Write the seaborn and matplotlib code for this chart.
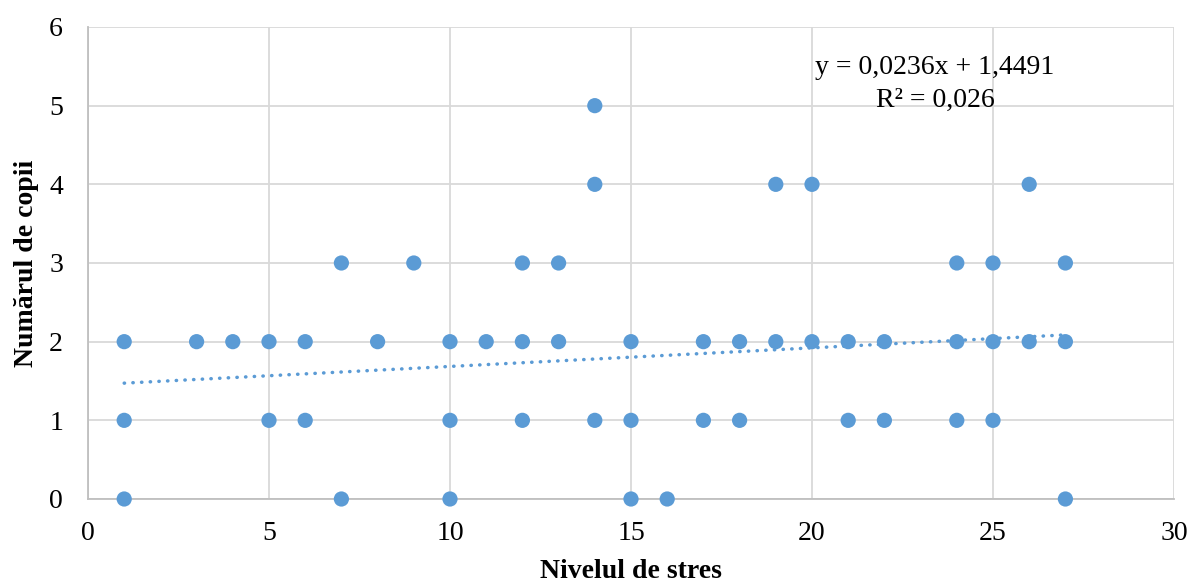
import numpy as np
import pandas as pd
import matplotlib
matplotlib.use("Agg")
import matplotlib.pyplot as plt
import seaborn as sns

# stress level (x) and number of children (y)
stres = [1, 7, 10, 15, 16, 27,
         1, 5, 6, 10, 12, 14, 15, 17, 18, 21, 22, 24, 25,
         1, 3, 4, 5, 6, 8, 10, 11, 12, 13, 15, 17, 18, 19, 20, 21, 22, 24, 25, 26, 27,
         7, 9, 12, 13, 24, 25, 27,
         14, 19, 20, 26,
         14]
copii = [0] * 6 + [1] * 13 + [2] * 21 + [3] * 7 + [4] * 4 + [5]

# trendline as printed on the chart
slope = 0.0236
intercept = 1.4491
trend_x = [1, 27]
eq_text = "y = 0,0236x + 1,4491"
r2_text = "R² = 0,026"

x_ticks = [0, 5, 10, 15, 20, 25, 30]
y_ticks = [0, 1, 2, 3, 4, 5, 6]

df = pd.DataFrame({"stres": stres, "copii": copii})
trend = pd.DataFrame({"x": trend_x})
trend["y"] = slope * trend["x"] + intercept

sns.set_style("white")
plt.rcParams["font.family"] = ["Liberation Serif", "DejaVu Serif"]
plt.rcParams["text.color"] = "black"
plt.rcParams["xtick.color"] = "black"
plt.rcParams["ytick.color"] = "black"
plt.rcParams["axes.labelcolor"] = "black"

blue = "#5B9BD5"
fig = plt.figure(figsize=(11.9, 5.86), dpi=100)
ax = fig.add_axes([88 / 1190, 1 - 499 / 586, (1174 - 88) / 1190, (499 - 27) / 586])

sns.scatterplot(data=df, x="stres", y="copii", ax=ax, color=blue, s=120,
                edgecolor="none", zorder=3, clip_on=False)
sns.lineplot(data=trend, x="x", y="y", ax=ax, color=blue, linestyle=(0, (0.1, 2.4)),
             linewidth=2.5, zorder=4, dash_capstyle="round")

ax.set_xlim(0, 30)
ax.set_ylim(0, 6)
ax.set_xticks(x_ticks)
ax.set_yticks(y_ticks)
ax.tick_params(axis="both", labelsize=20, length=0)
ax.tick_params(axis="x", pad=16)
ax.tick_params(axis="y", pad=18)
ax.grid(True, color="#D9D9D9", linewidth=1.3)
ax.set_axisbelow(True)
for side in ["top", "right"]:
    ax.spines[side].set_visible(False)
for side in ["left", "bottom"]:
    ax.spines[side].set_color("#BFBFBF")
    ax.spines[side].set_linewidth(1.3)

ax.set_xlabel("Nivelul de stres", fontsize=20, fontweight="bold", labelpad=9)
ax.set_ylabel("Numărul de copii", fontsize=20, fontweight="bold", labelpad=7)

ax.text(23.4, 5.479, eq_text, ha="center", va="center", fontsize=20)
ax.text(23.4, 5.072, r2_text, ha="center", va="center", fontsize=20)

fig.savefig("out.png", dpi=100)
